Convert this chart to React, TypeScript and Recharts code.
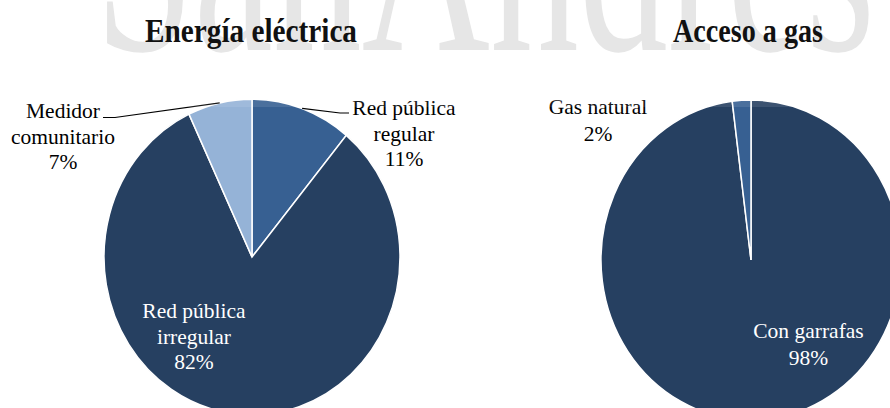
import React from 'react'
import { PieChart, Pie, Cell } from 'recharts'

const titles = ['Energía eléctrica', 'Acceso a gas']

const electricNames = ['Red pública regular', 'Red pública irregular', 'Medidor comunitario']
const electricLines = [['Red pública', 'regular'], ['Red pública', 'irregular'], ['Medidor', 'comunitario']]
const electricValues = [11, 82, 7]

const gasNames = ['Con garrafas', 'Gas natural']
const gasLines = [['Con garrafas'], ['Gas natural']]
const gasValues = [98, 2]

const electricData = electricNames.map((name, i) => ({ name, value: electricValues[i] }))
const gasData = gasNames.map((name, i) => ({ name, value: gasValues[i] }))

const DARK = '#264061'
const MID = '#376092'
const LIGHT = '#95B3D7'
const electricColors = [MID, DARK, LIGHT]
const gasColors = [DARK, MID]

// the original pies are a bit taller than wide
const SY = 1.067
const FONT = "'Liberation Serif', 'Times New Roman', serif"

type Leader = { kx: number; ky: number; ex: number }
type LabelPos = { dx: number; dy: number; color: string; leader?: Leader }

const electricLabelPos: LabelPos[] = [
  { dx: 152, dy: -142, color: '#000', leader: { kx: -64, ky: -2, ex: -55 } },
  { dx: -58, dy: 61, color: '#fff' },
  { dx: -189, dy: -139, color: '#000', leader: { kx: 52, ky: -0.5, ex: 40 } },
]
const gasLabelPos: LabelPos[] = [
  { dx: 57.5, dy: 78, color: '#fff' },
  { dx: -153, dy: -146, color: '#000' },
]

const makeLabel = (lines: string[][], pos: LabelPos[], lh: number) => (props: any) => {
  const { cx, cy, midAngle, outerRadius, index, value } = props
  const p = pos[index]
  const tx = cx + p.dx
  const ty = cy + p.dy
  const rad = Math.PI / 180
  const px = cx + outerRadius * Math.cos(-midAngle * rad)
  const py = cy + outerRadius * Math.sin(-midAngle * rad) * SY
  const all = [...lines[index], `${value}%`]
  return (
    <g key={`lbl-${index}`}>
      {p.leader && (
        <polyline
          points={`${px},${py} ${tx + p.leader.kx},${ty + p.leader.ky} ${tx + p.leader.ex},${ty + p.leader.ky}`}
          fill="none"
          stroke="#000"
          strokeWidth={1.2}
        />
      )}
      <text x={tx} y={ty} textAnchor="middle" fontFamily={FONT} fontSize={21.5} fill={p.color}>
        {all.map((ln, i) => (
          <tspan key={i} x={tx} dy={i === 0 ? 0 : lh}>
            {ln}
          </tspan>
        ))}
      </text>
    </g>
  )
}

const css = `
.sector-e { transform-origin: 252px 257px; transform: scaleY(${SY}); }
.sector-g { transform-origin: 751px 260px; transform: scaleY(${SY}); }
`

export default function App() {
  return (
    <div style={{ position: 'absolute', left: 0, top: 0, width: 890, height: 408, overflow: 'hidden', background: '#fff' }}>
      <style>{css}</style>
      <div style={{ position: 'absolute', left: 0, top: 0 }}>
        <PieChart width={890} height={408} margin={{ top: 0, right: 0, bottom: 0, left: 0 }}>
          <Pie
            data={electricData}
            dataKey="value"
            nameKey="name"
            cx={252}
            cy={257}
            outerRadius={148}
            startAngle={90}
            endAngle={-270}
            stroke="#fff"
            strokeWidth={1.5}
            label={makeLabel(electricLines, electricLabelPos, 25.5)}
            labelLine={false}
            isAnimationActive={false}
          >
            {electricData.map((d, i) => (
              <Cell key={d.name} fill={electricColors[i]} className="sector-e" />
            ))}
          </Pie>
          <Pie
            data={gasData}
            dataKey="value"
            nameKey="name"
            cx={751}
            cy={260}
            outerRadius={150}
            startAngle={90}
            endAngle={-270}
            stroke="#fff"
            strokeWidth={1.5}
            label={makeLabel(gasLines, gasLabelPos, 27)}
            labelLine={false}
            isAnimationActive={false}
          >
            {gasData.map((d, i) => (
              <Cell key={d.name} fill={gasColors[i]} className="sector-g" />
            ))}
          </Pie>
        </PieChart>
      </div>
      <svg width={890} height={408} style={{ position: 'absolute', left: 0, top: 0, pointerEvents: 'none' }}>
        <rect x={0} y={0} width={890} height={107} fill="#fff" fillOpacity={0.1} />
        <g transform="translate(0,50) scale(1,1.45) translate(0,-50)">
          <text x={95} y={50} fontFamily={FONT} fontSize={190} fill="#e6e6e6" textLength={780} lengthAdjust="spacingAndGlyphs">
            SanAndres
          </text>
        </g>
        <text x={251} y={42} textAnchor="middle" fontFamily={FONT} fontWeight="bold" fontSize={33} fill="#111" textLength={212} lengthAdjust="spacingAndGlyphs">
          {titles[0]}
        </text>
        <text x={748} y={42} textAnchor="middle" fontFamily={FONT} fontWeight="bold" fontSize={33} fill="#111" textLength={150} lengthAdjust="spacingAndGlyphs">
          {titles[1]}
        </text>
      </svg>
    </div>
  )
}
